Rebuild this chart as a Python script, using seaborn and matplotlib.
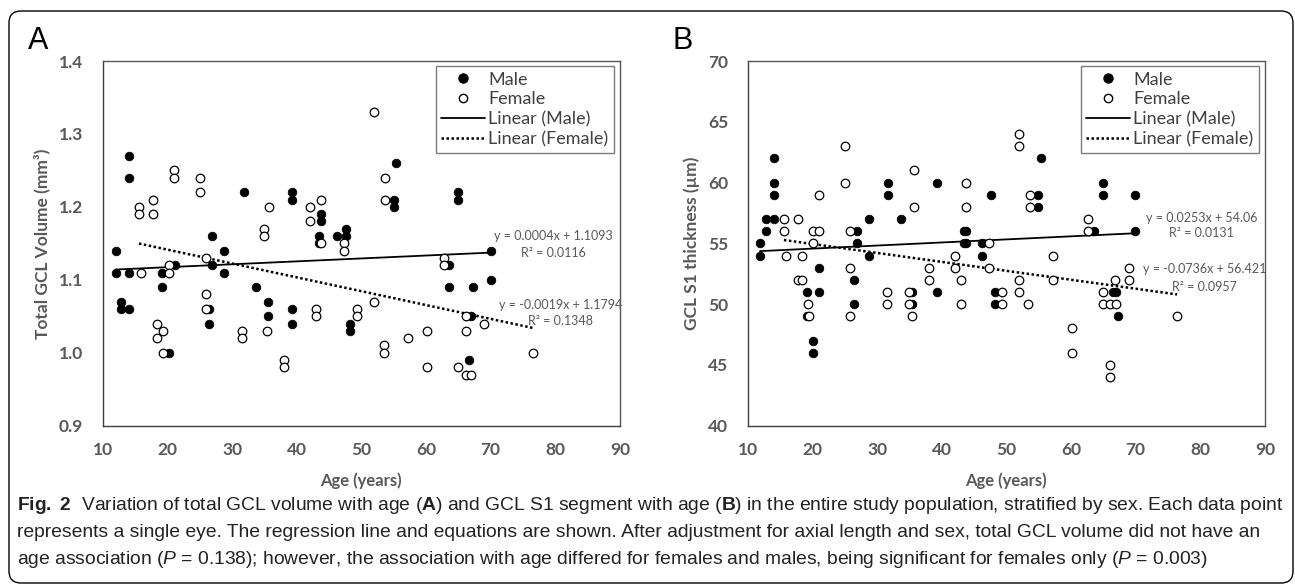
import matplotlib
matplotlib.use("Agg")
import matplotlib.pyplot as plt
import seaborn as sns
import pandas as pd
import numpy as np
from matplotlib.lines import Line2D
from matplotlib.patches import FancyBboxPatch
from matplotlib.transforms import IdentityTransform

# -----------------------------
# Data
# -----------------------------
# Panel A: total GCL volume (mm3)
male_age_a = [12.0, 12.0, 12.8, 12.8, 14.0, 14.0, 14.0, 14.0, 19.1, 19.1, 20.2, 21.2,
              26.5, 26.5, 26.9, 26.9, 28.8, 28.8, 31.8, 33.7, 35.5, 35.5, 39.2, 39.2,
              39.2, 39.2, 43.4, 43.4, 43.7, 43.7, 46.2, 47.6, 47.6, 48.3, 48.3, 55.0,
              55.0, 55.3, 63.6, 63.6, 64.9, 64.9, 66.7, 67.0, 67.2, 70.0, 70.0]
male_vol = [1.14, 1.11, 1.07, 1.06, 1.27, 1.24, 1.11, 1.06, 1.11, 1.09, 1.00, 1.12,
            1.06, 1.04, 1.16, 1.12, 1.14, 1.11, 1.22, 1.09, 1.07, 1.05, 1.22, 1.21,
            1.06, 1.04, 1.16, 1.15, 1.19, 1.18, 1.16, 1.17, 1.16, 1.04, 1.03, 1.21,
            1.20, 1.26, 1.12, 1.09, 1.22, 1.21, 0.99, 1.05, 1.09, 1.14, 1.10]

female_age_a = [15.6, 15.6, 16.0, 17.8, 17.8, 18.4, 18.4, 19.4, 19.4, 20.2, 20.2, 21.1,
                21.1, 25.0, 25.0, 25.9, 25.9, 25.9, 31.5, 31.5, 34.9, 34.9, 35.4, 35.7,
                38.0, 38.0, 42.1, 42.1, 43.0, 43.0, 43.7, 43.8, 47.3, 47.3, 49.3, 49.3,
                52.0, 52.0, 53.5, 53.5, 53.7, 53.7, 57.2, 60.2, 60.2, 62.8, 62.8, 64.9,
                66.2, 66.2, 66.2, 67.0, 69.0, 76.5]
female_vol = [1.20, 1.19, 1.11, 1.21, 1.19, 1.04, 1.02, 1.03, 1.00, 1.12, 1.11, 1.25,
              1.24, 1.24, 1.22, 1.13, 1.08, 1.06, 1.03, 1.02, 1.17, 1.16, 1.03, 1.20,
              0.99, 0.98, 1.20, 1.18, 1.06, 1.05, 1.21, 1.15, 1.15, 1.14, 1.06, 1.05,
              1.33, 1.07, 1.01, 1.00, 1.24, 1.21, 1.02, 1.03, 0.98, 1.13, 1.12, 0.98,
              1.05, 1.03, 0.97, 0.97, 1.04, 1.00]

# Panel B: GCL S1 thickness (um)
male_age_b = [11.9, 11.9, 12.8, 12.8, 14.0, 14.0, 14.0, 14.0, 19.1, 19.1, 20.1, 20.1,
              21.0, 21.0, 26.5, 26.5, 26.9, 26.9, 28.8, 28.8, 31.7, 31.7, 33.7, 35.4,
              35.4, 39.2, 39.2, 43.4, 43.4, 43.7, 43.7, 46.2, 46.2, 47.6, 48.2, 48.2,
              54.9, 54.9, 55.3, 63.6, 64.9, 64.9, 66.5, 67.0, 67.2, 69.9, 69.9]
male_s1 = [55, 54, 57, 56, 62, 60, 59, 57, 51, 49, 47, 46,
           53, 51, 52, 50, 56, 55, 57, 54, 60, 59, 57, 51,
           50, 60, 51, 56, 55, 56, 55, 55, 54, 59, 51, 50,
           59, 58, 62, 56, 60, 59, 51, 51, 49, 59, 56]

female_age_b = [15.6, 15.6, 16.0, 17.8, 17.8, 18.4, 18.4, 19.4, 19.5, 20.1, 20.1, 21.0,
                21.0, 25.0, 25.0, 25.8, 25.8, 25.8, 31.5, 31.5, 34.9, 34.9, 35.4, 35.7,
                35.7, 38.0, 38.0, 42.1, 42.1, 43.0, 43.0, 43.7, 43.7, 47.3, 47.3, 49.3,
                49.3, 52.0, 52.0, 52.0, 52.0, 53.4, 53.6, 53.6, 57.2, 57.2, 60.2, 60.2,
                62.7, 62.7, 64.9, 64.9, 66.1, 66.1, 66.1, 66.8, 66.9, 69.0, 69.0, 76.4]
female_s1 = [57, 56, 54, 57, 52, 54, 52, 50, 49, 56, 55, 56,
             59, 63, 60, 56, 53, 49, 51, 50, 51, 50, 49, 61,
             58, 53, 52, 54, 53, 52, 50, 60, 58, 55, 53, 51,
             50, 64, 63, 52, 51, 50, 59, 58, 54, 52, 48, 46,
             57, 56, 51, 50, 50, 45, 44, 52, 50, 53, 52, 49]

# regression lines as printed on the chart (slope, intercept, R2)
fit_a_male = [0.0004, 1.1093, 0.0116]
fit_a_female = [-0.0019, 1.1794, 0.1348]
fit_b_male = [0.0253, 54.06, 0.0131]
fit_b_female = [-0.0736, 56.421, 0.0957]

x_ticks = [10, 20, 30, 40, 50, 60, 70, 80, 90]
y_ticks_a = [0.9, 1.0, 1.1, 1.2, 1.3, 1.4]
y_ticks_b = [40, 45, 50, 55, 60, 65, 70]

caption_lines = [
    r"$\bf{Fig.\ 2}$  Variation of total GCL volume with age ($\bf{A}$) and GCL S1 segment with age ($\bf{B}$) in the entire study population, stratified by sex. Each data point",
    "represents a single eye. The regression line and equations are shown. After adjustment for axial length and sex, total GCL volume did not have an",
    r"age association ($\it{P}$ = 0.138); however, the association with age differed for females and males, being significant for females only ($\it{P}$ = 0.003)",
]

# -----------------------------
# Style
# -----------------------------
sns.set_style("white")
plt.rcParams["font.family"] = ["Lato", "DejaVu Sans"]
plt.rcParams["mathtext.fontset"] = "custom"
plt.rcParams["mathtext.rm"] = "Liberation Sans"
plt.rcParams["mathtext.it"] = "Liberation Sans:italic"
plt.rcParams["mathtext.bf"] = "Liberation Sans:bold"

GRAY = "#595959"

fig = plt.figure(figsize=(12.95, 5.84), dpi=100)

# rounded frame around the whole figure
frame = FancyBboxPatch((9, 1), 1284, 572, boxstyle="round,pad=0,rounding_size=12",
                       transform=IdentityTransform(), facecolor="none",
                       edgecolor="black", linewidth=1.0)
fig.add_artist(frame)


def draw_panel(rect, m_age, m_val, f_age, f_val, fit_m, fit_f, yticks, ylabel,
               ylim, eq_pos, letter, fmt):
    ax = fig.add_axes(rect)
    male = pd.DataFrame({"age": m_age, "val": m_val})
    female = pd.DataFrame({"age": f_age, "val": f_val})

    sns.scatterplot(data=male, x="age", y="val", ax=ax, color="black",
                    edgecolor="black", s=38, linewidth=0.6, zorder=3)
    sns.scatterplot(data=female, x="age", y="val", ax=ax, color="white",
                    edgecolor="black", s=38, linewidth=0.9, zorder=3)

    xm = np.array([min(m_age), max(m_age)])
    xf = np.array([min(f_age), max(f_age)])
    ax.plot(xm, fit_m[0] * xm + fit_m[1], color="black", lw=1.3, zorder=2)
    ax.plot(xf, fit_f[0] * xf + fit_f[1], color="black", lw=1.8,
            linestyle=(0, (1, 1)), zorder=2)

    ax.set_xlim(10, 90)
    ax.set_ylim(*ylim)
    ax.set_xticks(x_ticks)
    ax.set_yticks(yticks)
    ax.set_xticklabels([str(t) for t in x_ticks])
    ax.set_yticklabels([fmt.format(t) for t in yticks])
    ax.tick_params(axis="both", direction="out", length=5, width=1, color=GRAY,
                   labelsize=12.5, labelcolor=GRAY)
    ax.tick_params(axis="x", pad=7)
    ax.tick_params(axis="y", pad=9)
    for lab in ax.get_xticklabels() + ax.get_yticklabels():
        lab.set_fontweight("bold")
    for sp in ax.spines.values():
        sp.set_color(GRAY)
        sp.set_linewidth(1.0)
    ax.spines["left"].set_color("#404040")
    ax.spines["bottom"].set_color("#404040")

    ax.set_xlabel("Age (years)", fontsize=12, fontweight="bold", color=GRAY,
                  labelpad=10)
    ax.set_ylabel(ylabel, fontsize=12.5, fontweight="bold", color=GRAY, labelpad=6)

    # equations
    (mx, my, mry), (fx, fy, fry) = eq_pos
    ax.text(mx, my, f"y = {fit_m[0]}x + {fit_m[1]}", ha="center", va="center",
            fontsize=9, color=GRAY)
    ax.text(mx, mry, f"R² = {fit_m[2]}", ha="center", va="center",
            fontsize=9, color=GRAY)
    ax.text(fx, fy, f"y = {fit_f[0]}x + {fit_f[1]}", ha="center", va="center",
            fontsize=9, color=GRAY)
    ax.text(fx, fry, f"R² = {fit_f[2]}", ha="center", va="center",
            fontsize=9, color=GRAY)

    handles = [
        Line2D([], [], marker="o", color="black", linestyle="none", markersize=6.5),
        Line2D([], [], marker="o", markerfacecolor="white", markeredgecolor="black",
               linestyle="none", markersize=6),
        Line2D([], [], color="black", lw=1.3),
        Line2D([], [], color="black", lw=1.8, linestyle=(0, (1, 1))),
    ]
    leg = ax.legend(handles, ["Male", "Female", "Linear (Male)", "Linear (Female)"],
                    loc="upper right", bbox_to_anchor=(0.988, 0.986),
                    borderaxespad=0, fancybox=False, frameon=True, fontsize=13,
                    handlelength=2.4, handletextpad=0.2, labelspacing=0.22,
                    borderpad=0.3)
    leg.get_frame().set_edgecolor(GRAY)
    leg.get_frame().set_linewidth(1.0)
    for t in leg.get_texts():
        t.set_color("#404040")

    fig.text(rect[0] - 0.058, 0.93, letter, fontsize=22,
             family=["Liberation Sans", "DejaVu Sans"], color="black",
             ha="left", va="center")
    return ax


rect_a = [102.7 / 1295, 1 - 425.7 / 584, 517.3 / 1295, 364.7 / 584]
rect_b = [747.7 / 1295, 1 - 425.7 / 584, 517.3 / 1295, 364.7 / 584]

draw_panel(rect_a, male_age_a, male_vol, female_age_a, female_vol,
           fit_a_male, fit_a_female, y_ticks_a, "Total GCL Volume (mm³)",
           (0.9, 1.4), ((79.7, 1.160, 1.137), (80.8, 1.066, 1.044)), "A", "{:.1f}")
draw_panel(rect_b, male_age_b, male_s1, female_age_b, female_s1,
           fit_b_male, fit_b_female, y_ticks_b, "GCL S1 thickness (µm)",
           (40, 70), ((80.2, 57.06, 55.83), (80.7, 52.87, 51.43)), "B", "{:d}")

# caption
for i, line in enumerate(caption_lines):
    fig.text(0.013, 1 - (505 + i * 27.5) / 584, line, fontsize=13.85,
             family=["Liberation Sans", "DejaVu Sans"], color="#222222",
             ha="left", va="center")

plt.savefig("out.png", dpi=100)
